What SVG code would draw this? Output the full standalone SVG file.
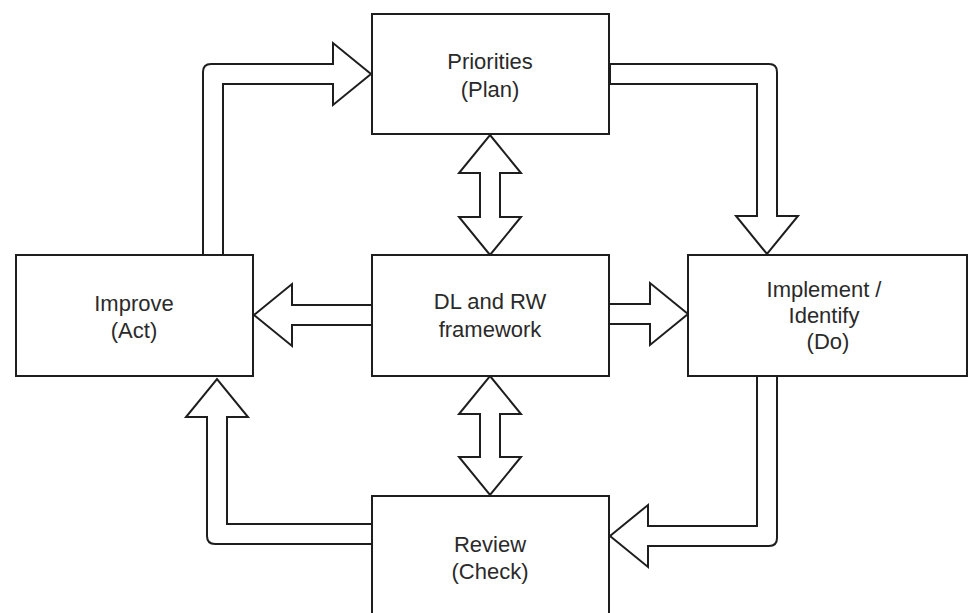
<svg xmlns="http://www.w3.org/2000/svg" width="969" height="613" viewBox="0 0 969 613">
  <style>
    .box { fill: #ffffff; stroke: #1e1e1e; stroke-width: 2; }
    .arrow { fill: #ffffff; stroke: #1e1e1e; stroke-width: 2; stroke-linejoin: miter; }
    .label { font-family: "Liberation Sans", Arial, Helvetica, sans-serif; font-size: 22px; fill: #2a2a2a; text-anchor: middle; }
    .label-bold { font-weight: bold; }
  </style>
  <rect x="0" y="0" width="969" height="613" fill="#ffffff"/>

  <!-- connectors: block arrows -->
  <g id="connectors">
    <!-- Improve -> Priorities -->
    <path class="arrow" d="M203,255 L203,72 Q203,64 211,64 L333,64 L333,43 L371,74 L333,105 L333,84 L223,84 L223,255 Z"/>
    <!-- Priorities -> Implement -->
    <path class="arrow" d="M610,64 L769,64 Q777,64 777,72 L777,216 L798,216 L767,254 L736,216 L757,216 L757,84 L610,84 Z"/>
    <!-- Priorities <-> framework -->
    <path class="arrow" d="M490,135 L521,173 L500,173 L500,217 L521,217 L490,255 L459,217 L480,217 L480,173 L459,173 Z"/>
    <!-- framework -> Improve -->
    <path class="arrow" d="M372,305 L292,305 L292,284 L254,315 L292,346 L292,325 L372,325 Z"/>
    <!-- framework -> Implement -->
    <path class="arrow" d="M609,304 L650,304 L650,283 L688,314 L650,345 L650,324 L609,324 Z"/>
    <!-- framework <-> Review -->
    <path class="arrow" d="M490,376 L521,414 L500,414 L500,457 L521,457 L490,495 L459,457 L480,457 L480,414 L459,414 Z"/>
    <!-- Implement -> Review -->
    <path class="arrow" d="M757,376 L757,526 L648,526 L648,505 L610,536 L648,567 L648,546 L769,546 Q777,546 777,538 L777,376 Z"/>
    <!-- Review -> Improve -->
    <path class="arrow" d="M372,524 L227,524 L227,417 L248,417 L217,379 L186,417 L207,417 L207,536 Q207,544 215,544 L372,544 Z"/>
  </g>

  <g id="node-priorities">
    <rect class="box" x="372" y="14" width="237" height="120"/>
    <text class="label" x="490" y="69">Priorities</text>
    <text class="label" x="490" y="97">(Plan)</text>
  </g>

  <g id="node-improve">
    <rect class="box" x="16" y="255" width="237" height="121"/>
    <text class="label" x="134" y="311">Improve</text>
    <text class="label" x="134" y="338">(Act)</text>
  </g>

  <g id="node-framework">
    <rect class="box" x="372" y="255" width="237" height="121"/>
    <text class="label" x="490" y="309">DL and RW</text>
    <text class="label" x="490" y="337">framework</text>
  </g>

  <g id="node-implement">
    <rect class="box" x="688" y="255" width="279" height="121"/>
    <text class="label" x="824" y="297">Implement /</text>
    <text class="label" x="824" y="323">Identify</text>
    <text class="label" x="828" y="349">(Do)</text>
  </g>

  <g id="node-review">
    <rect class="box" x="372" y="496" width="237" height="130"/>
    <text class="label" x="490" y="552">Review</text>
    <text class="label" x="490" y="579">(Check)</text>
  </g>
</svg>
